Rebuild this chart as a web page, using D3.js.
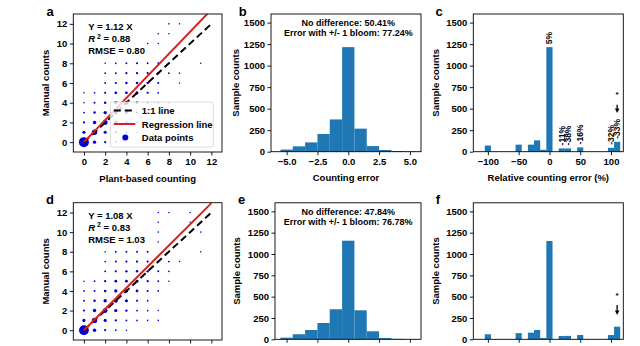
<!DOCTYPE html>
<html>
<head>
<meta charset="utf-8">
<script src="https://cdn.jsdelivr.net/npm/d3@7"></script>
<style>
  body { margin: 0; background: #fff; }
  svg { display: block; font-family: "Liberation Sans", Arial, sans-serif; font-weight: bold; }
  .axis text { font-size: 9.5px; font-weight: bold; font-family: "Liberation Sans", Arial, sans-serif; fill: #000; }
  .axis line { stroke: #000; stroke-width: 0.9; }
  .axis path { display: none; }
</style>
</head>
<body>
<div class="canvas"></div>
<script>
// scatter points: [plant-based count, manual count, samples]
const scatterA = [
  [0, 0, 650], [1, 0, 40], [2, 0, 8], [3, 0, 2],
  [0, 1, 30], [1, 1, 150], [2, 1, 30], [3, 1, 10], [4, 1, 3], [5, 1, 1],
  [0, 2, 8], [1, 2, 45], [2, 2, 120], [3, 2, 35], [4, 2, 10], [5, 2, 3], [6, 2, 1],
  [0, 3, 3], [1, 3, 15], [2, 3, 40], [3, 3, 80], [4, 3, 30], [5, 3, 8], [6, 3, 3], [7, 3, 1],
  [0, 4, 1], [1, 4, 6], [2, 4, 15], [3, 4, 35], [4, 4, 60], [5, 4, 20], [6, 4, 6], [7, 4, 2], [8, 4, 1],
  [0, 5, 1], [1, 5, 3], [2, 5, 8], [3, 5, 20], [4, 5, 25], [5, 5, 30], [6, 5, 10], [7, 5, 3],
  [2, 6, 3], [3, 6, 8], [4, 6, 12], [5, 6, 15], [6, 6, 15], [7, 6, 6], [9, 6, 1],
  [2, 7, 2], [3, 7, 4], [4, 7, 8], [5, 7, 10], [6, 7, 8], [7, 7, 8], [8, 7, 3], [9, 7, 1],
  [2, 8, 1], [3, 8, 3], [4, 8, 4], [5, 8, 6], [6, 8, 4], [7, 8, 4], [11, 8, 1],
  [7, 10, 1], [6, 10, 1], [7, 11, 1], [8, 11, 1], [8, 12, 1], [9, 12, 1]
];
const scatterD = [
  [0, 0, 620], [1, 0, 40], [2, 0, 8], [3, 0, 2], [4, 0, 1],
  [0, 1, 30], [1, 1, 140], [2, 1, 30], [3, 1, 10], [4, 1, 4], [5, 1, 2], [6, 1, 1], [7, 1, 1],
  [0, 2, 8], [1, 2, 45], [2, 2, 110], [3, 2, 35], [4, 2, 12], [5, 2, 4], [6, 2, 2], [7, 2, 1],
  [0, 3, 3], [1, 3, 15], [2, 3, 40], [3, 3, 70], [4, 3, 30], [5, 3, 8], [6, 3, 3],
  [0, 4, 2], [1, 4, 6], [2, 4, 15], [3, 4, 35], [4, 4, 50], [5, 4, 20], [6, 4, 6], [7, 4, 2],
  [0, 5, 1], [1, 5, 3], [2, 5, 10], [3, 5, 20], [4, 5, 25], [5, 5, 25], [6, 5, 10], [7, 5, 4], [8, 5, 1],
  [2, 6, 4], [3, 6, 8], [4, 6, 12], [5, 6, 14], [6, 6, 12], [7, 6, 5], [8, 6, 2],
  [2, 7, 2], [3, 7, 4], [4, 7, 8], [5, 7, 10], [6, 7, 8], [7, 7, 6], [8, 7, 3], [9, 7, 1],
  [2, 8, 1], [3, 8, 3], [4, 8, 4], [5, 8, 5], [6, 8, 4], [11, 8, 1],
  [7, 9, 1], [7, 10, 1], [11, 10, 1], [7, 11, 1], [10, 11, 1],
  [7, 12, 1], [8, 12, 1], [10, 12, 1]
];
const slopes = [1.12, 1.08];
const r2Values = ["0.88", "0.83"];
const rmseValues = ["0.80", "1.03"];

// counting error histograms (bins of width 1)
const errorBins = [-5, -4, -3, -2, -1, 0, 1, 2, 3, 4, 5];
const errorCountsB = [25, 62, 108, 206, 375, 1215, 268, 65, 20, 8, 3];
const errorCountsE = [19, 59, 109, 191, 352, 1156, 340, 94, 15, 5, 2];
const noDiff = ["50.41%", "47.84%"];
const withinOne = ["77.24%", "76.78%"];

// relative counting error histograms (bins of width 10)
const relBins = [-100, -50, -30, -20, -10, 0, 20, 30, 50, 100, 110];
const relCountsC = [72, 82, 82, 132, 22, 1215, 38, 38, 50, 45, 115];
const relCountsF = [59, 72, 78, 109, 15, 1152, 39, 40, 50, 50, 148];
const relLabelsC = ["", "", "", "", "", "5%", "-11%", "-38%", "-16%", "-32%", "-33%"];

const plantTicks = [0, 2, 4, 6, 8, 10, 12];
const countTicks = [0, 250, 500, 750, 1000, 1250, 1500];
const errorTicks = [-5, -2.5, 0, 2.5, 5];
const relTicks = [-100, -50, 0, 50, 100];

const svg = d3
  .select(".canvas")
  .append("svg")
  .attr("width", 640)
  .attr("height", 346);

svg.append("rect").attr("width", 640).attr("height", 346).attr("fill", "#fff");

function frame(box) {
  svg
    .append("rect")
    .attr("x", box.left)
    .attr("y", box.top)
    .attr("width", box.right - box.left)
    .attr("height", box.bottom - box.top)
    .attr("fill", "none")
    .attr("stroke", "#000")
    .attr("stroke-width", 0.9);
}

// bottom row is cut by the picture edge, so its x tick labels are left out
function axes(box, x, y, xTicks, yTicks, xFmt) {
  svg
    .append("g")
    .attr("class", "axis")
    .attr("transform", `translate(${box.left}, 0)`)
    .call(
      d3.axisLeft(y).tickValues(yTicks).tickSize(3.5).tickPadding(2.5).tickSizeOuter(0).tickFormat(d3.format("d"))
    );
  svg
    .append("g")
    .attr("class", "axis")
    .attr("transform", `translate(0, ${box.bottom})`)
    .call(
      d3.axisBottom(x).tickValues(xTicks).tickSize(3.5).tickPadding(3).tickSizeOuter(0).tickFormat(xFmt || "")
    );
}

function labels(box, letter, letterX, yLabel, yLabelX, xLabel) {
  svg
    .append("text")
    .attr("x", letterX)
    .attr("y", box.top + 1.5)
    .attr("text-anchor", "middle")
    .attr("font-size", 13)
    .text(letter);
  svg
    .append("text")
    .attr("transform", `translate(${yLabelX}, ${(box.top + box.bottom) / 2}) rotate(-90)`)
    .attr("text-anchor", "middle")
    .attr("dominant-baseline", "central")
    .attr("font-size", 9.5)
    .text(yLabel);
  if (xLabel) {
    svg
      .append("text")
      .attr("x", (box.left + box.right) / 2)
      .attr("y", box.bottom + 26)
      .attr("text-anchor", "middle")
      .attr("dominant-baseline", "central")
      .attr("font-size", 9.5)
      .text(xLabel);
  }
}

function drawScatter(box, id, points, i, showLegend, xFmt) {
  const x = d3.scaleLinear().domain([-1, 13]).range([box.left, box.right]);
  const y = d3.scaleLinear().domain([-1, 13]).range([box.bottom, box.top]);
  const r = d3.scaleSqrt().domain([0, 650]).range([0.6, 5]);

  svg
    .append("clipPath")
    .attr("id", id)
    .append("rect")
    .attr("x", box.left)
    .attr("y", box.top)
    .attr("width", box.right - box.left)
    .attr("height", box.bottom - box.top);

  const plot = svg.append("g").attr("clip-path", `url(#${id})`);

  plot
    .selectAll("circle")
    .data(points)
    .enter()
    .append("circle")
    .attr("cx", (d) => x(d[0]))
    .attr("cy", (d) => y(d[1]))
    .attr("r", (d) => r(d[2]))
    .attr("fill", "#0000d8");

  const line = d3
    .line()
    .x((d) => x(d[0]))
    .y((d) => y(d[1]));

  plot
    .append("path")
    .attr("d", line([[0, 0], [12, 12]]))
    .attr("stroke", "#000")
    .attr("stroke-width", 2)
    .attr("stroke-dasharray", "7,4")
    .attr("fill", "none");

  plot
    .append("path")
    .attr("d", line([[0, 0], [12, 12 * slopes[i]]]))
    .attr("stroke", "#d62020")
    .attr("stroke-width", 2)
    .attr("fill", "none");

  const stats = svg
    .append("g")
    .attr("font-size", 9.5)
    .attr("transform", `translate(${x(0.4)}, ${box.top})`);
  stats.append("text").attr("y", 16).text(`Y = ${slopes[i].toFixed(2)} X`);
  const r2 = stats.append("text").attr("y", 28);
  r2.append("tspan").attr("font-style", "italic").text("R");
  r2.append("tspan").attr("dy", -3.5).attr("font-size", 7).text(" 2");
  r2.append("tspan").attr("dy", 3.5).text(` = ${r2Values[i]}`);
  stats.append("text").attr("y", 40).text(`RMSE = ${rmseValues[i]}`);

  axes(box, x, y, plantTicks, plantTicks, xFmt);
  frame(box);

  if (showLegend) {
    const lg = svg.append("g").attr("transform", `translate(${box.left + 37}, ${box.bottom - 50})`);
    lg.append("rect")
      .attr("width", 103)
      .attr("height", 45)
      .attr("rx", 2)
      .attr("fill", "#fff")
      .attr("fill-opacity", 0.8)
      .attr("stroke", "#d0d0d0")
      .attr("stroke-width", 0.8);
    const items = [
      { label: "1:1 line", kind: "dash" },
      { label: "Regression line", kind: "line" },
      { label: "Data points", kind: "dot" },
    ];
    items.forEach((it, k) => {
      const cy = 8.5 + k * 13.5;
      if (it.kind === "dot") {
        lg.append("circle").attr("cx", 15).attr("cy", cy).attr("r", 3).attr("fill", "#0000d8");
      } else {
        lg.append("line")
          .attr("x1", 3.5)
          .attr("x2", 25)
          .attr("y1", cy)
          .attr("y2", cy)
          .attr("stroke", it.kind === "dash" ? "#000" : "#d62020")
          .attr("stroke-width", 2)
          .attr("stroke-dasharray", it.kind === "dash" ? "7,4" : null);
      }
      lg.append("text")
        .attr("x", 31.5)
        .attr("y", cy)
        .attr("dominant-baseline", "central")
        .attr("font-size", 9.5)
        .text(it.label);
    });
  }
}

function drawHist(box, xDomain, bins, counts, binWidth, xTicks, xFmt) {
  const x = d3.scaleLinear().domain(xDomain).range([box.left, box.right]);
  const y = d3.scaleLinear().domain([0, 1600]).range([box.bottom, box.top]);

  svg
    .append("g")
    .selectAll("rect")
    .data(bins)
    .enter()
    .append("rect")
    .attr("x", (d) => x(d - binWidth / 2))
    .attr("width", (d) => x(d + binWidth / 2) - x(d - binWidth / 2))
    .attr("y", (d, i) => y(counts[i]))
    .attr("height", (d, i) => y(0) - y(counts[i]))
    .attr("fill", "#1f77b4");

  axes(box, x, y, xTicks, countTicks, xFmt);
  frame(box);
  return { x, y };
}

function noteText(box, x, i) {
  const cx = x(0);
  svg
    .append("text")
    .attr("x", cx)
    .attr("y", box.top + 12)
    .attr("text-anchor", "middle")
    .attr("font-size", 9)
    .text(`No difference: ${noDiff[i]}`);
  svg
    .append("text")
    .attr("x", cx)
    .attr("y", box.top + 22)
    .attr("text-anchor", "middle")
    .attr("font-size", 9)
    .text(`Error with +/- 1 bloom: ${withinOne[i]}`);
}

function starArrow(sc, bin, starAt, from, to) {
  const ax = sc.x(bin);
  svg
    .append("text")
    .attr("x", ax)
    .attr("y", sc.y(starAt) + 4)
    .attr("text-anchor", "middle")
    .attr("font-size", 8)
    .text("*");
  svg
    .append("line")
    .attr("x1", ax)
    .attr("x2", ax)
    .attr("y1", sc.y(from))
    .attr("y2", sc.y(to) - 3)
    .attr("stroke", "#000")
    .attr("stroke-width", 1.3);
  const tip = sc.y(to);
  svg
    .append("path")
    .attr("d", `M${ax - 2.3},${tip - 4.5}L${ax + 2.3},${tip - 4.5}L${ax},${tip}Z`)
    .attr("fill", "#000");
}

const minusFmt = (d) => d3.format(".1f")(d).replace("-", "\u2212");
const hyphenFmt = d3.format("d");
const intFmt = d3.format("d");

// top row
const boxA = { left: 73.3, right: 222, top: 14, bottom: 152 };
const boxB = { left: 271, right: 421, top: 14, bottom: 151.7 };
const boxC = { left: 473.3, right: 623.3, top: 14, bottom: 151.7 };
// bottom row
const boxD = { left: 73.3, right: 222, top: 202.7, bottom: 340 };
const boxE = { left: 275, right: 421, top: 202.8, bottom: 339.3 };
const boxF = { left: 473.3, right: 623.3, top: 202.8, bottom: 339.3 };

drawScatter(boxA, "clipA", scatterA, 0, true, intFmt);
labels(boxA, "a", 50, "Manual counts", 45, "Plant-based counting");

const b = drawHist(boxB, [-6.27, 5.9], errorBins, errorCountsB, 1, errorTicks, minusFmt);
noteText(boxB, b.x, 0);
labels(boxB, "b", 242.7, "Sample counts", 235, "Counting error");

const c = drawHist(boxC, [-123.7, 120], relBins, relCountsC, 10, relTicks, hyphenFmt);
labels(boxC, "c", 439, "Sample counts", 435, "Relative counting error (%)");
svg
  .append("g")
  .selectAll("text")
  .data(relBins)
  .enter()
  .append("text")
  .attr("transform", (d, i) => `translate(${c.x(d)}, ${c.y(relCountsC[i]) - 3}) rotate(-90)`)
  .attr("dominant-baseline", "central")
  .attr("font-size", 8.5)
  .text((d, i) => relLabelsC[i]);
starArrow(c, 110, 682, 545, 449);

drawScatter(boxD, "clipD", scatterD, 1, false, null);
labels(boxD, "d", 50, "Manual counts", 45, null);

const e = drawHist(boxE, [-5.94, 5.9], errorBins, errorCountsE, 1, errorTicks, null);
noteText(boxE, e.x, 1);
labels(boxE, "e", 241.7, "Sample counts", 236, null);

const f = drawHist(boxF, [-123.7, 120], relBins, relCountsF, 10, relTicks, null);
labels(boxF, "f", 438, "Sample counts", 435, null);
starArrow(f, 110, 531, 402, 285);
</script>
</body>
</html>
